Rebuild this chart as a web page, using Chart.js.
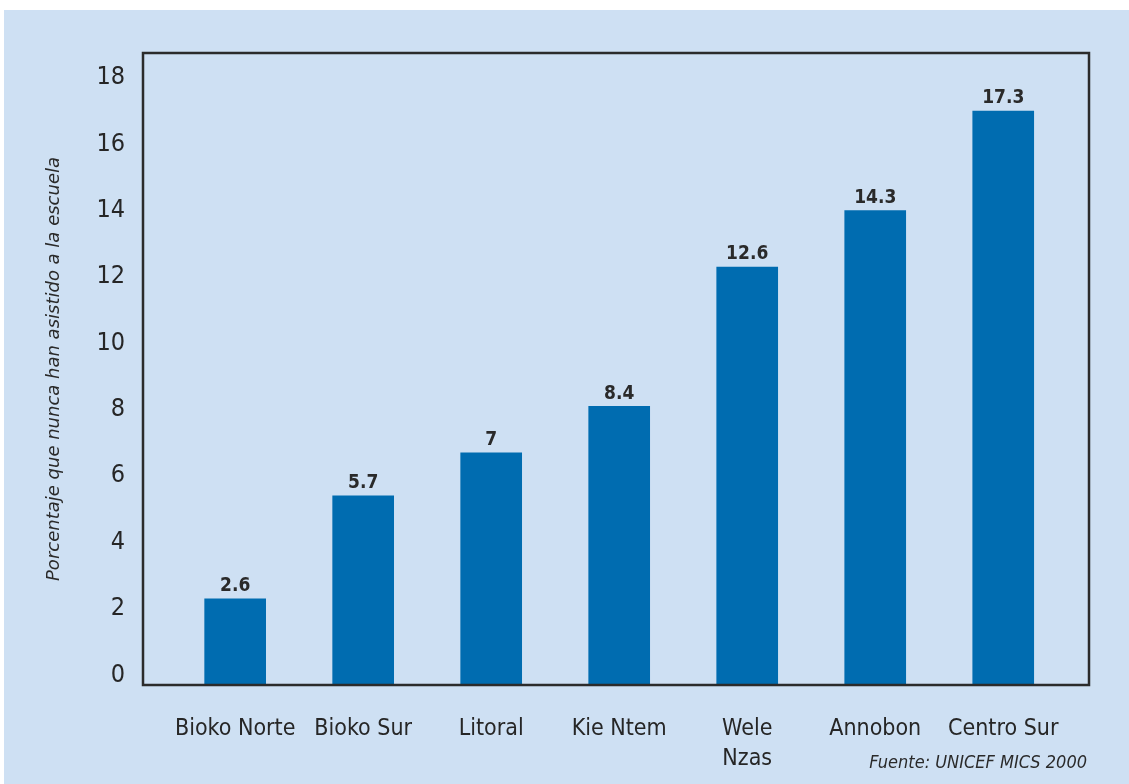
<!DOCTYPE html>
<html>
<head>
<meta charset="utf-8">
<script src="https://cdn.jsdelivr.net/npm/chart.js@4.4.0/dist/chart.umd.min.js"></script>
<style>
  html, body { margin: 0; padding: 0; background: #fff; }
  #wrap { position: absolute; left: 4px; top: 10px; width: 1125px; height: 774px; background: #cee0f3; }
  canvas { display: block; }
</style>
</head>
<body>
<div id="wrap"><canvas id="chart" width="1125" height="774"></canvas></div>
<script>
// datos
const regiones = ["Bioko Norte", "Bioko Sur", "Litoral", "Kie Ntem", ["Wele", "Nzas"], "Annobon", "Centro Sur"];
const porcentajes = [2.6, 5.7, 7, 8.4, 12.6, 14.3, 17.3];
const yTicks = [0, 2, 4, 6, 8, 10, 12, 14, 16, 18];
const fuente = "Fuente: UNICEF MICS 2000";

const narrow = "'Liberation Sans Narrow', 'DejaVu Sans Condensed', sans-serif";

// marco + etiquetas de valor + fuente
const extras = {
  id: "extras",
  afterDatasetsDraw(chart) {
    const { ctx, chartArea: a } = chart;
    ctx.save();
    ctx.strokeStyle = "#2b2b2b";
    ctx.lineWidth = 2.5;
    ctx.strokeRect(a.left, a.top, a.right - a.left, a.bottom - a.top);

    ctx.fillStyle = "#2a2a2a";
    ctx.font = "bold 19px " + narrow;
    ctx.textAlign = "center";
    ctx.textBaseline = "bottom";
    chart.getDatasetMeta(0).data.forEach((bar, i) => {
      ctx.fillText(String(porcentajes[i]), bar.x, bar.y - 3);
    });

    ctx.font = "italic 18px " + narrow;
    ctx.textAlign = "right";
    ctx.textBaseline = "middle";
    ctx.fillText(fuente, a.right - 2, a.bottom + 78);
    ctx.restore();
  }
};

new Chart(document.getElementById("chart"), {
  type: "bar",
  data: {
    datasets: [{
      data: porcentajes.map((v, i) => ({ x: i, y: v })),
      backgroundColor: "#006cb0",
      borderWidth: 0,
      barThickness: 61
    }]
  },
  options: {
    responsive: false,
    animation: false,
    layout: { padding: { left: 0, top: 43, right: 40, bottom: 0 } },
    plugins: { legend: { display: false }, tooltip: { enabled: false } },
    scales: {
      x: {
        type: "linear",
        offset: false,
        min: -0.72,
        max: 6.67,
        grid: { display: false },
        border: { display: false },
        afterBuildTicks: axis => { axis.ticks = regiones.map((_, i) => ({ value: i })); },
        afterFit: axis => { axis.height = 99; },
        ticks: {
          callback: v => regiones[v],
          color: "#262626",
          padding: 21,
          maxRotation: 0,
          autoSkip: false,
          font: { family: narrow, size: 23, lineHeight: "30px" }
        }
      },
      y: {
        min: 0,
        max: 19.05,
        grid: { display: false },
        border: { display: false },
        afterBuildTicks: axis => { axis.ticks = yTicks.map(v => ({ value: v })); },
        afterFit: axis => { axis.width = 139; },
        ticks: {
          color: "#262626",
          padding: 10,
          labelOffset: -10,
          font: { family: narrow, size: 25 }
        },
        title: {
          display: true,
          text: "Porcentaje que nunca han asistido a la escuela",
          color: "#2a2a2a",
          padding: { top: 40, bottom: 0 },
          font: { family: "'DejaVu Sans', sans-serif", size: 18, style: "italic" }
        }
      }
    }
  },
  plugins: [extras]
});
</script>
</body>
</html>
